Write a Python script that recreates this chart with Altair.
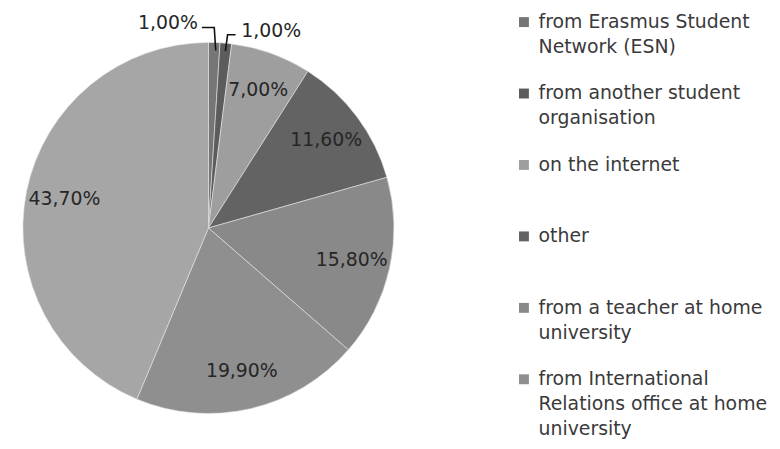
import math
import altair as alt
import pandas as pd

# ---- data ----
categories = [
    "from Erasmus Student Network (ESN)",
    "from another student organisation",
    "on the internet",
    "other",
    "from a teacher at home university",
    "from International Relations office at home university",
    "not shown in legend",
]
values = [1.0, 1.0, 7.0, 11.6, 15.8, 19.9, 43.7]
legend_text = [
    "from Erasmus Student\nNetwork (ESN)",
    "from another student\norganisation",
    "on the internet",
    "other",
    "from a teacher at home\nuniversity",
    "from International\nRelations office at home\nuniversity",
    "",
]
colors = ["#767676", "#5c5c5c", "#9e9e9e", "#636363", "#898989", "#8f8f8f", "#a6a6a6"]

FONT = "DejaVu Sans"
CX, CY, R = 202, 220, 187


def pct(v):
    return f"{v:.2f}".replace(".", ",") + "%"


df = pd.DataFrame({
    "idx": list(range(len(categories))),
    "cat": categories,
    "value": values,
    "label": [pct(v) if v > 2 else "" for v in values],
    "leg": legend_text,
})

color_scale = alt.Scale(domain=categories, range=colors)

base = alt.Chart(df)

arcs = base.mark_arc(outerRadius=R, stroke="#e6e6e6", strokeWidth=0.6).encode(
    theta=alt.Theta("value:Q", stack=True),
    color=alt.Color("cat:N", scale=color_scale, legend=None),
    order=alt.Order("idx:Q"),
    x=alt.value(CX),
    y=alt.value(CY),
)

inside = base.mark_text(radius=148, font=FONT, fontSize=19, color="#262626").encode(
    theta=alt.Theta("value:Q", stack=True),
    order=alt.Order("idx:Q"),
    text=alt.Text("label:N"),
    x=alt.value(CX),
    y=alt.value(CY),
)

# ---- outside labels for the two small slices, with leader lines ----
cum = 0.0
mids = []
for v in values:
    mids.append((cum + v / 2) / 100 * 2 * math.pi)
    cum += v
pts = []
labs = []
# slice 0: leader goes up then left
ex, ey = CX + R * math.sin(mids[0]), CY - R * math.cos(mids[0])
pts += [
    {"sid": 0, "k": 0, "px": ex + 1.5, "py": ey + 8},
    {"sid": 0, "k": 1, "px": ex, "py": 18},
    {"sid": 0, "k": 2, "px": ex - 12.5, "py": 18},
]
labs.append({"px": ex - 16.5, "py": 19, "t": pct(values[0]), "al": "right"})
# slice 1: leader goes up then right
ex, ey = CX + R * math.sin(mids[1]), CY - R * math.cos(mids[1])
pts += [
    {"sid": 1, "k": 0, "px": ex - 0.5, "py": ey + 8},
    {"sid": 1, "k": 1, "px": ex + 1.7, "py": 25.3},
    {"sid": 1, "k": 2, "px": ex + 9.7, "py": 25.3},
]
labs.append({"px": ex + 15.5, "py": 28, "t": pct(values[1]), "al": "left"})

pts_df = pd.DataFrame(pts)
labs_df = pd.DataFrame(labs)

leaders = alt.Chart(pts_df).mark_line(color="#111111", strokeWidth=1.6).encode(
    x=alt.X("px:Q", scale=None, axis=None),
    y=alt.Y("py:Q", scale=None, axis=None),
    detail="sid:N",
    order="k:Q",
)

out_left = alt.Chart(labs_df[labs_df.al == "right"]).mark_text(
    font=FONT, fontSize=19, color="#262626", align="right", baseline="alphabetic"
).encode(x=alt.X("px:Q", scale=None, axis=None), y=alt.Y("py:Q", scale=None, axis=None), text="t:N")
out_right = alt.Chart(labs_df[labs_df.al == "left"]).mark_text(
    font=FONT, fontSize=19, color="#262626", align="left", baseline="alphabetic"
).encode(x=alt.X("px:Q", scale=None, axis=None), y=alt.Y("py:Q", scale=None, axis=None), text="t:N")

# ---- custom legend ----
leg_base = base.transform_filter("datum.idx < 6").transform_calculate(
    sy="12.5 + datum.idx * 72", ty="18.5 + datum.idx * 72"
)
leg_sq = leg_base.mark_square(size=100, opacity=1).encode(
    x=alt.value(520),
    y=alt.Y("sy:Q", scale=None, axis=None),
    color=alt.Color("cat:N", scale=color_scale, legend=None),
)
leg_tx = leg_base.mark_text(
    font=FONT, fontSize=19, color="#3a3a3a", align="left", baseline="alphabetic",
    lineBreak="\n", lineHeight=25,
).encode(
    x=alt.value(534.7),
    y=alt.Y("ty:Q", scale=None, axis=None),
    text="leg:N",
)

chart = alt.layer(arcs, inside, leaders, out_left, out_right, leg_sq, leg_tx).properties(
    width=770, height=433, autosize="none", padding=0, background="white"
).configure_view(stroke=None)

chart.save("out.html", embed_options={"renderer": "svg", "actions": False})
